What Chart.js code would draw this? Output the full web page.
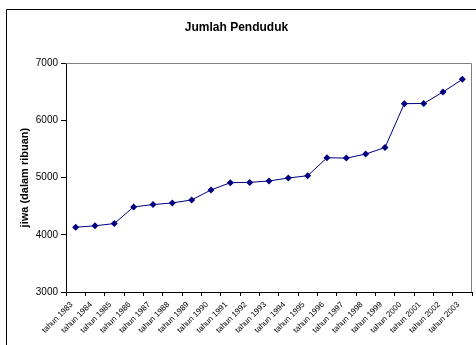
<!DOCTYPE html>
<html>
<head>
<meta charset="utf-8">
<title>Jumlah Penduduk</title>
<script src="https://cdn.jsdelivr.net/npm/chart.js@4/dist/chart.umd.min.js"></script>
<style>
  html, body { margin: 0; padding: 0; background: #fff; }
  #wrap { width: 476px; height: 345px; }
</style>
</head>
<body>
<div id="wrap"><canvas id="chartCanvas" width="476" height="345"></canvas></div>
<script>
var years = ["tahun 1983", "tahun 1984", "tahun 1985", "tahun 1986", "tahun 1987",
	"tahun 1988", "tahun 1989", "tahun 1990", "tahun 1991", "tahun 1992",
	"tahun 1993", "tahun 1994", "tahun 1995", "tahun 1996", "tahun 1997",
	"tahun 1998", "tahun 1999", "tahun 2000", "tahun 2001", "tahun 2002", "tahun 2003"];
var penduduk = [4132, 4157, 4197, 4488, 4528, 4557, 4610, 4784, 4911, 4916,
	4941, 4993, 5033, 5347, 5341, 5411, 5526, 6293, 6295, 6497, 6718];
var yMin = 3000, yMax = 7000, yStep = 1000;

var fontName = "Arial, 'Liberation Sans', sans-serif";

// excel style frame: outer border (left/top) and grey top/right of the plot area
var frame = {
	id: 'frame',
	beforeDraw: function(chart) {
		var c = chart.ctx;
		c.save();
		c.fillStyle = '#fff';
		c.fillRect(0, 0, chart.width, chart.height);
		c.strokeStyle = '#000';
		c.lineWidth = 1;
		c.beginPath();
		c.moveTo(6.5, chart.height);
		c.lineTo(6.5, 9.5);
		c.lineTo(chart.width, 9.5);
		c.stroke();
		c.restore();
	},
	beforeDatasetsDraw: function(chart) {
		var a = chart.chartArea, c = chart.ctx;
		c.save();
		c.strokeStyle = '#808080';
		c.lineWidth = 1;
		c.beginPath();
		c.moveTo(a.left, Math.round(a.top) + 0.5);
		c.lineTo(Math.round(a.right) - 0.5, Math.round(a.top) + 0.5);
		c.lineTo(Math.round(a.right) - 0.5, a.bottom);
		c.stroke();
		c.restore();
	}
};

var ctx = document.getElementById('chartCanvas');
var lineGraph = new Chart(ctx, {
	type: 'line',
	data: {
		labels: years,
		datasets: [
			{
				label: "jiwa",
				data: penduduk,
				borderColor: '#000080',
				backgroundColor: '#000080',
				borderWidth: 1,
				lineTension: 0,
				pointStyle: 'rectRot',
				pointRadius: 3.5,
				pointBorderWidth: 0,
				pointBackgroundColor: '#000080'
			}
		]
	},
	options: {
		responsive: false,
		animation: false,
		devicePixelRatio: 1,
		layout: { padding: { left: 0, right: 3, top: 0, bottom: 0 } },
		plugins: {
			legend: { display: false },
			tooltip: { enabled: false },
			title: {
				display: true,
				text: 'Jumlah Penduduk',
				color: '#000',
				font: { family: fontName, size: 12, weight: 'bold' },
				padding: { top: 20, bottom: 28.8 }
			}
		},
		scales: {
			x: {
				offset: true,
				grid: { offset: true, drawOnChartArea: false, tickLength: 4, color: '#000' },
				border: { color: '#000' },
				ticks: {
					autoSkip: false,
					maxRotation: 45,
					minRotation: 45,
					padding: 4,
					labelOffset: -4,
					color: '#000',
					font: { family: fontName, size: 8 }
				},
				afterFit: function(scale) { scale.height = 53; }
			},
			y: {
				min: yMin,
				max: yMax,
				grid: { drawOnChartArea: false, tickLength: 5, color: '#000' },
				border: { color: '#000' },
				ticks: {
					stepSize: yStep,
					padding: 3,
					color: '#000',
					font: { family: fontName, size: 10 },
					callback: function(v) { return String(v); }
				},
				title: {
					display: true,
					text: 'jiwa (dalam ribuan)',
					color: '#000',
					font: { family: fontName, size: 11, weight: 'bold' },
					padding: { top: 18, bottom: 0 }
				},
				afterFit: function(scale) { scale.width = 66; }
			}
		}
	},
	plugins: [frame]
});
</script>
</body>
</html>
